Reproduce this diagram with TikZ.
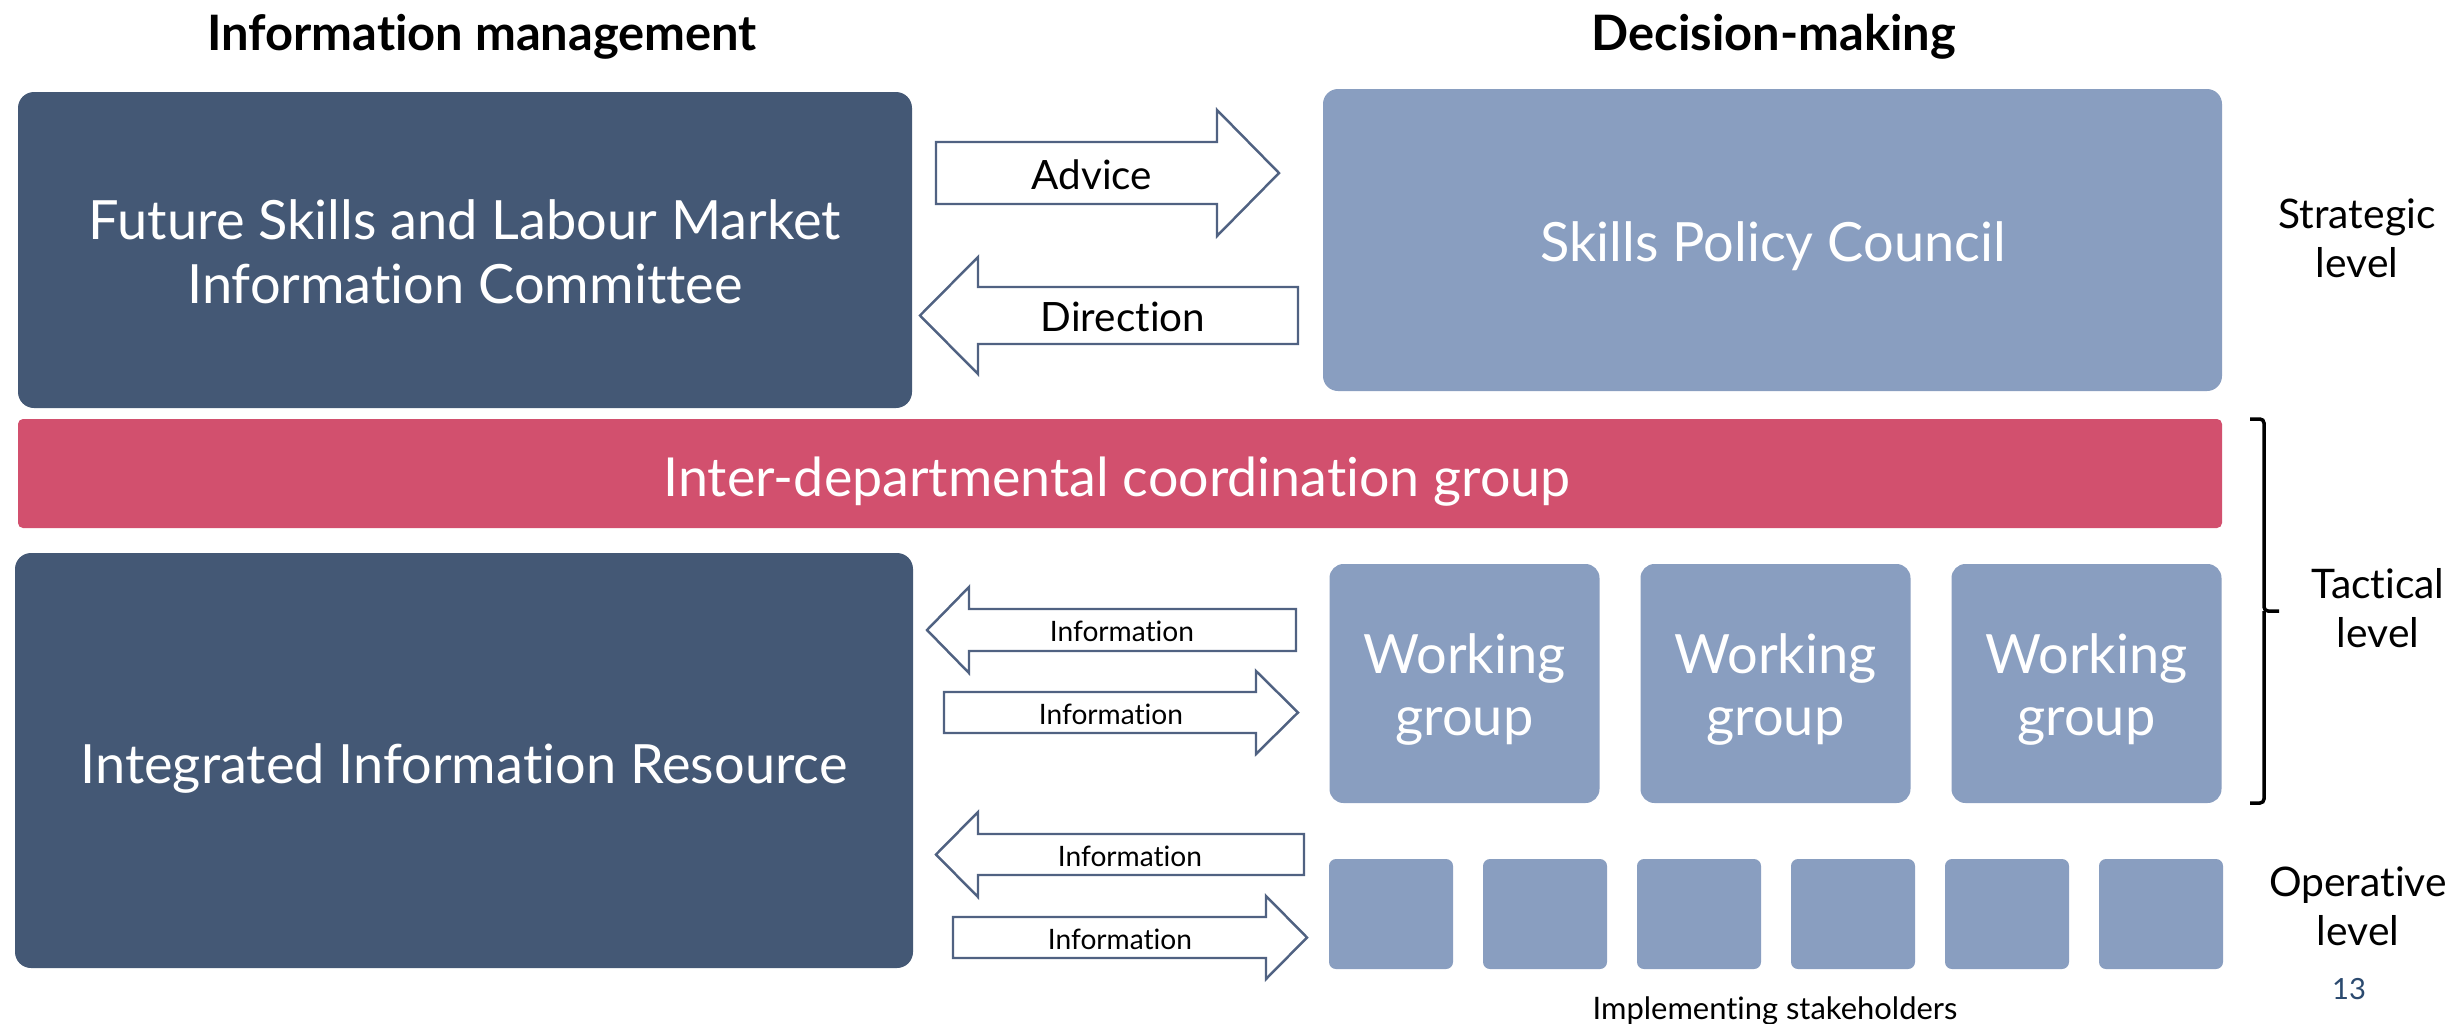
\documentclass[tikz,border=0pt]{standalone}
\usepackage{fontspec}
\setmainfont{Lato}[Ligatures=NoCommon]
\definecolor{navybox}{HTML}{445875}
\definecolor{lightbox}{HTML}{899EC0}
\definecolor{pinkbar}{HTML}{D2506E}
\definecolor{arrowline}{HTML}{506282}
\definecolor{pagenum}{HTML}{2B4A6F}
\tikzset{
  darkbox/.style={fill=navybox, rounded corners=1.6mm, inner sep=0pt},
  lightboxs/.style={fill=lightbox, rounded corners=1.5mm, inner sep=0pt},
  wgbox/.style={fill=lightbox, rounded corners=1.4mm, inner sep=0pt,
    minimum width=27mm, minimum height=23.9mm},
  smallbox/.style={fill=lightbox, rounded corners=0.7mm, inner sep=0pt,
    minimum width=12.4mm, minimum height=11mm},
  pinkbox/.style={fill=pinkbar, rounded corners=0.5mm, inner sep=0pt},
  boxtext/.style={anchor=base, inner sep=0pt, text=white, font=\fontsize{15.4}{18}\selectfont},
  blockarrow/.style={draw=arrowline, fill=white, line width=0.7pt, line join=miter},
  biglabel/.style={anchor=base, inner sep=0pt, font=\fontsize{11.5}{13}\selectfont},
  smalllabel/.style={anchor=base, inner sep=0pt, font=\fontsize{8}{9.6}\selectfont},
  title/.style={anchor=base, inner sep=0pt, font=\bfseries\fontsize{13.9}{16}\selectfont},
  levellabel/.style={inner sep=0pt, align=center, font=\fontsize{11.6}{14}\selectfont},
}
\begin{document}
\begin{tikzpicture}[x={(0.1mm,0)}, y={(0,-0.1mm)}]
\useasboundingbox[fill=white] (0,0) rectangle (2456,1023);

% titles
\node[title] (t1) at (482,50) {Information management};
\node[title] (t2) at (1774,50) {Decision-making};

% top boxes
\node[darkbox, minimum width=89.4mm, minimum height=31.6mm] (fslmic) at (465,250) {};
\node[boxtext] (fslmic-a) at (465,239) {Future Skills and Labour Market};
\node[boxtext] (fslmic-b) at (465,303) {Information Committee};
\node[lightboxs, minimum width=89.9mm, minimum height=30.2mm] (spc) at (1772.5,240) {};
\node[boxtext] (spc-t) at (1773,261) {Skills Policy Council};

% pink bar
\node[pinkbox, minimum width=220.4mm, minimum height=10.9mm] (idcg) at (1120,473.5) {};
\node[boxtext, font=\fontsize{15.3}{18}\selectfont] (idcg-t) at (1117,496) {Inter-departmental coordination group};

% IIR
\node[darkbox, minimum width=89.8mm, minimum height=41.5mm] (iir) at (464,760.5) {};
\node[boxtext] (iir-t) at (464,783) {Integrated Information Resource};

% working groups
\foreach \n/\x in {1/1464.5, 2/1775.5, 3/2086.5} {
  \node[wgbox] (wg\n) at (\x,683.5) {};
  \node[boxtext] (wg\n-a) at (\x,673) {Working};
  \node[boxtext] (wg\n-b) at (\x,735) {group};
}

% small stakeholder boxes
\foreach \i in {0,...,5} {
  \node[smallbox] (s\i) at ({1391+154*\i},914) {};
}
\node[anchor=base, inner sep=0pt, font=\fontsize{8.8}{10}\selectfont] (impl) at (1775,1019) {Implementing stakeholders};

% block arrows
% Advice (right)
\draw[blockarrow] (936,142) -- (1217,142) -- (1217,110) -- (1279,173) -- (1217,236) -- (1217,204) -- (936,204) -- cycle;
\node[biglabel] (advice) at (1092,189) {Advice};
% Direction (left)
\draw[blockarrow] (1298,287) -- (978,287) -- (978,257) -- (920,315.5) -- (978,374) -- (978,344) -- (1298,344) -- cycle;
\node[biglabel] (direction) at (1123,331) {Direction};
% Info 1 (left)
\draw[blockarrow] (1296,609) -- (969,609) -- (969,587) -- (927,630) -- (969,673) -- (969,651) -- (1296,651) -- cycle;
\node[smalllabel] (info1) at (1122,641) {Information};
% Info 2 (right)
\draw[blockarrow] (944,692) -- (1256,692) -- (1256,671) -- (1298,712.5) -- (1256,754) -- (1256,733) -- (944,733) -- cycle;
\node[smalllabel] (info2) at (1111,724) {Information};
% Info 3 (left)
\draw[blockarrow] (1304,834) -- (978,834) -- (978,812) -- (936,854.5) -- (978,897) -- (978,875) -- (1304,875) -- cycle;
\node[smalllabel] (info3) at (1130,866) {Information};
% Info 4 (right)
\draw[blockarrow] (953,917) -- (1266,917) -- (1266,896) -- (1307,937.5) -- (1266,979) -- (1266,958) -- (953,958) -- cycle;
\node[smalllabel] (info4) at (1120,949) {Information};

% brace
\draw[line width=1pt, rounded corners=0.4mm] (2250,419) -- (2264,419) -- (2264,611) -- (2279,611);
\draw[line width=1pt, rounded corners=0.4mm] (2264,611) -- (2264,803) -- (2250,803);

% level labels
\node[levellabel] (strat) at (2357,238) {Strategic\\level};
\node[levellabel] (tact) at (2378,608) {Tactical\\level};
\node[levellabel] (oper) at (2358,906) {Operative\\level};

% page number
\node[anchor=base, inner sep=0pt, text=pagenum, font=\fontsize{8.3}{10}\selectfont] (pnum) at (2349,999) {13};
\end{tikzpicture}
\end{document}
